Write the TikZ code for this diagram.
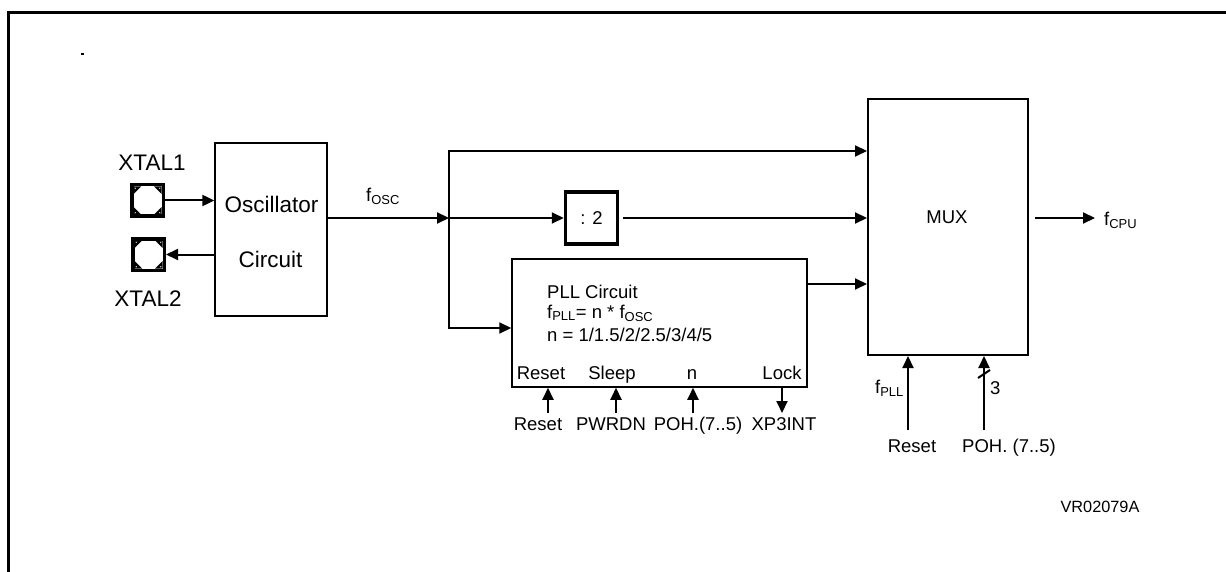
\documentclass[tikz,border=0pt]{standalone}
\usepackage{fontspec}
\setmainfont{Liberation Sans}
\usetikzlibrary{arrows.meta, positioning, calc}
\tikzset{
  blk/.style={draw, line width=1.3pt, inner sep=0pt},
  divbox/.style={draw, line width=3.5pt, minimum size=52pt, inner sep=0pt, font=\lblsize},
  pad/.style={draw, line width=3.5pt, fill=white, minimum size=31.5pt, inner sep=0pt},
  arr/.style={-{Triangle[length=12pt, width=11pt]}, line width=2pt},
  wire/.style={line width=2pt},
  txt/.style={font=\lblsize, inner sep=0pt},
  big/.style={font=\bigsize, inner sep=0pt},
}
\newcommand\lblsize{\fontsize{18.5}{21.5}\selectfont}
\newcommand\bigsize{\fontsize{22.5}{26}\selectfont}
\newcommand\padcorners[1]{%
  \foreach \sx/\sy in {1/1,1/-1,-1/1,-1/-1} {
    \fill ([shift={(\sx*14,\sy*14)}]#1.center) -- ([shift={(\sx*6.5,\sy*14)}]#1.center)
      -- ([shift={(\sx*14,\sy*6.5)}]#1.center) -- cycle;
    \fill[white] ([shift={(\sx*12.3,\sy*12.3)}]#1.center) circle (0.7);
  }}

\begin{document}
\begin{tikzpicture}[x=1pt, y=-1pt]
  \useasboundingbox (0,0) rectangle (1226,572);
  % page frame
  \draw[line width=3pt] (8.5,572) -- (8.5,12.5) -- (1226,12.5);
  \fill (81,53) rectangle (83.5,55);

  % oscillator and pads
  \node[blk, minimum width=112pt, minimum height=173pt] (osc) at (271,229.5) {};
  \node[big, anchor=base] (osc1) at (271.5,213) {Oscillator};
  \node[big, anchor=base] (osc2) at (270.5,267) {Circuit};
  \node[pad] (xa) at (147.5,200.5) {};
  \node[pad] (xb) at (148.5,254.5) {};
  \padcorners{xa}
  \padcorners{xb}
  \node[big, anchor=base] (xalbl) at (152,171) {XTAL1};
  \node[big, anchor=base] (xblbl) at (148,306) {XTAL2};
  \draw[arr] (xa.east) -- (osc.west |- xa.east);
  \draw[arr] (osc.west |- xb.east) -- (xb.east);

  % divider, PLL, MUX
  \node[divbox] (div) at (591.5,218) {: 2};
  \node[blk, line width=1.5pt, minimum width=295pt, minimum height=128pt] (pll) at (659.5,323) {};
  \node[blk, line width=2pt, minimum width=160pt, minimum height=256pt] (mux) at (948,227) {};
  \node[txt] (muxlbl) at (947,217) {MUX};

  \node[txt, anchor=base west] (pll1) at (547,298) {PLL Circuit};
  \node[txt, anchor=base west] (pll2) at (547,318) {f\textsubscript{PLL}= n * f\textsubscript{OSC}};
  \node[txt, anchor=base west] (pll3) at (547,341) {n = 1/1.5/2/2.5/3/4/5};

  % clock paths
  \coordinate (br) at (449,218);
  \coordinate (ytop) at (0,151);
  \coordinate (ypll) at (0,328);
  \coordinate (yout) at (0,284);
  \node[txt] (osclbl) at (383,196) {f\textsubscript{OSC}};
  \draw[arr] (osc.east |- br) -- (br);
  \draw[arr] (br) |- (mux.west |- ytop);
  \draw[arr] (br) -- (div.west);
  \draw[arr] (br) |- (pll.west |- ypll);
  \draw[arr] ([xshift=4pt]div.east) -- (mux.west |- div.east);
  \draw[arr] (pll.east |- yout) -- (mux.west |- yout);
  \coordinate (cpu) at (1095,218);
  \draw[arr] ([xshift=6pt]mux.east |- cpu) -- (cpu);
  \node[txt, anchor=west] (cpulbl) at (1104,220) {f\textsubscript{CPU}};

  % PLL control pins
  \foreach \nm/\x/\t in {rst/541/Reset, slp/612/Sleep, nn/692/n, lck/782/Lock}
    \node[txt, anchor=base] (\nm) at (\x,379) {\t};
  \foreach \nm/\x/\t in {inrst/538/Reset, inslp/611/PWRDN, innn/698/POH.(7..5), outlck/784/XP3INT}
    \node[txt, anchor=base] (\nm) at (\x,430) {\t};
  \foreach \nm/\x in {ra/548, sa/616, na/693} {
    \coordinate (\nm) at (\x,413);
    \draw[arr] (\nm) -- (pll.south -| \nm);
  }
  \coordinate (la) at (782,413);
  \draw[arr] (pll.south -| la) -- (la);

  % MUX select inputs
  \coordinate (ma) at (908,430);
  \coordinate (mb) at (984,430);
  \draw[arr] (ma) -- (mux.south -| ma);
  \draw[arr] (mb) -- (mux.south -| mb);
  \draw[wire] ([shift={(-6,-52)}]mb) -- ([shift={(6,-60)}]mb);
  \node[txt, anchor=east] (fplllbl) at (904,388) {f\textsubscript{PLL}};
  \node[txt, anchor=west] (bus) at (990,388) {3};
  \node[txt, anchor=base] (mrst) at (912,452) {Reset};
  \node[txt, anchor=base] (mpoh) at (1009,452) {POH. (7..5)};

  \node[font=\fontsize{16.3}{19}\selectfont, inner sep=0pt, anchor=base] (ref) at (1100,512) {VR02079A};
\end{tikzpicture}
\end{document}
